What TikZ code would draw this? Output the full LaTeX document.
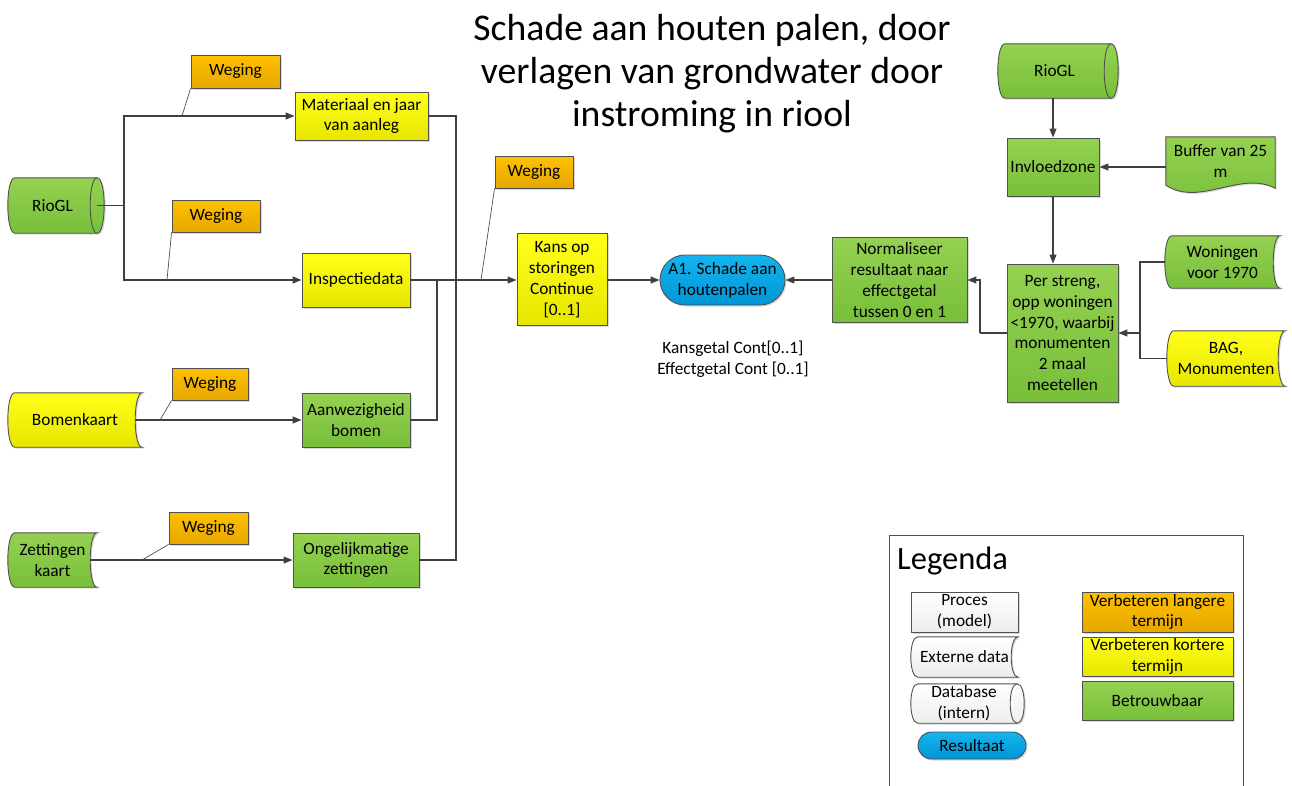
\documentclass[tikz,border=0pt]{standalone}
\usepackage{fontspec}
\setmainfont{Carlito}
\usetikzlibrary{arrows.meta,shadows,calc}
\pgfdeclarelayer{background}
\pgfsetlayers{background,main}
\definecolor{gtop}{HTML}{95D152}
\definecolor{gbot}{HTML}{78BF3A}
\definecolor{ytop}{HTML}{FFFF1A}
\definecolor{ybot}{HTML}{E6E600}
\definecolor{otop}{HTML}{FFC000}
\definecolor{obot}{HTML}{E6A700}
\definecolor{btop}{HTML}{14B4EE}
\definecolor{bbot}{HTML}{0096D6}
\definecolor{wtop}{HTML}{FFFFFF}
\definecolor{wbot}{HTML}{EDEDED}
\definecolor{lc}{HTML}{404040}
\definecolor{edge}{HTML}{505050}
\tikzset{
 txt/.style={font=\fontsize{17.3}{20.8}\selectfont, align=center, inner sep=0pt, text=black},
 shp/.style={draw=edge, line width=0.9pt, drop shadow={shadow xshift=1.5pt,shadow yshift=-1.5pt,opacity=0.3}},
 box/.style={txt, shp},
 gfill/.style={top color=gtop, bottom color=gbot},
 yfill/.style={top color=ytop, bottom color=ybot},
 ofill/.style={top color=otop, bottom color=obot},
 bfill/.style={top color=btop, bottom color=bbot},
 wfill/.style={top color=wtop, bottom color=wbot},
 arr/.style={draw=lc, line width=1.1pt, -{Triangle[length=9pt,width=7pt]}},
 ln/.style={draw=lc, line width=1.1pt},
 callout/.style={draw=edge, line width=0.7pt},
}
\newcommand\extout[2]{\path[shp,#2] ([xshift=7pt]#1.north west) -- (#1.north east) .. controls ([xshift=-9.33pt]#1.north east) and ([xshift=-9.33pt]#1.south east) .. (#1.south east) -- ([xshift=7pt]#1.south west) .. controls ([xshift=-2.33pt]#1.south west) and ([xshift=-2.33pt]#1.north west) .. ([xshift=7pt]#1.north west) -- cycle;}
\newcommand\dbout[2]{\path[shp,#2] ([xshift=7pt]#1.north west) -- (#1.north east) .. controls ([xshift=9.33pt]#1.north east) and ([xshift=9.33pt]#1.south east) .. (#1.south east) -- ([xshift=7pt]#1.south west) .. controls ([xshift=-2.33pt]#1.south west) and ([xshift=-2.33pt]#1.north west) .. ([xshift=7pt]#1.north west) -- cycle;
\draw[draw=edge,line width=0.9pt] (#1.north east) .. controls ([xshift=-9.33pt]#1.north east) and ([xshift=-9.33pt]#1.south east) .. (#1.south east);}
\begin{document}
\begin{tikzpicture}[x=1pt,y=-1pt]
\useasboundingbox (0,0) rectangle (1292,785);
% title
\node[txt,font=\fontsize{37.7}{43}\selectfont] (title) at (712,74) {Schade aan houten palen, door\\verlagen van grondwater door\\instroming in riool};
% left part
\node[txt,minimum width=89pt,minimum height=55pt] (rio1) at (52.5,205.5) {RioGL};
\node[box,ofill,minimum width=89pt,minimum height=33pt] (weg1) at (235.5,71.5) {Weging};
\node[box,yfill,minimum width=133pt,minimum height=48pt] (mat) at (361.5,116) {Materiaal en jaar\\van aanleg};
\node[box,ofill,minimum width=88pt,minimum height=32pt] (weg2) at (216,216) {Weging};
\node[box,yfill,minimum width=108pt,minimum height=54pt] (insp) at (356,280) {Inspectiedata};
\node[box,ofill,minimum width=78pt,minimum height=32pt] (weg3) at (534,172) {Weging};
\node[box,yfill,minimum width=90pt,minimum height=92pt] (kans) at (562,279.5) {Kans op\\storingen\\Continue\\{}[0..1]};
\node[txt,minimum width=134pt,minimum height=54pt] (bomen) at (75,420) {Bomenkaart};
\node[box,ofill,minimum width=76pt,minimum height=32pt] (weg4) at (210,384) {Weging};
\node[box,gfill,minimum width=108pt,minimum height=54pt] (aanw) at (356,420) {Aanwezigheid\\bomen};
\node[txt,minimum width=89pt,minimum height=54pt] (zet) at (52.5,560) {Zettingen\\kaart};
\node[box,ofill,minimum width=79pt,minimum height=32pt] (weg5) at (208.5,528) {Weging};
\node[box,gfill,minimum width=126pt,minimum height=54pt] (ong) at (356,560) {Ongelijkmatige\\zettingen};
% middle
\node[box,bfill,rounded corners=25pt,minimum width=125pt,minimum height=50pt] (a1) at (722.5,280) {A1. Schade aan\\houtenpalen};
\node[txt] (info) at (733,359) {Kansgetal Cont[0..1]\\Effectgetal Cont [0..1]};
\node[box,gfill,minimum width=135pt,minimum height=85pt] (norm) at (899.5,280) {Normaliseer\\resultaat naar\\effectgetal\\tussen 0 en 1};
% right part
\node[txt,minimum width=113pt,minimum height=54pt] (rio2) at (1054.5,71) {RioGL};
\node[box,gfill,minimum width=92pt,minimum height=58pt] (invl) at (1053,167) {Invloedzone};
\node[txt,minimum width=109pt,minimum height=48pt] (buf) at (1220.5,161) {Buffer van 25\\m};
\node[box,gfill,minimum width=111pt,minimum height=138pt] (per) at (1062.5,333) {Per streng,\\opp woningen\\<1970, waarbij\\monumenten\\2 maal\\meetellen};
\node[txt,minimum width=115pt,minimum height=52pt] (won) at (1222.5,262) {Woningen\\voor 1970};
\node[txt,minimum width=118pt,minimum height=55pt] (bag) at (1226,358.5) {BAG,\\Monumenten};
% legend
\node[draw=edge,line width=0.9pt,minimum width=354pt,minimum height=270pt,anchor=north west,inner sep=0pt] (leg) at (889,535) {};
\node[anchor=base west,font=\fontsize{32.5}{36}\selectfont,inner sep=0pt] (legt) at (897,569) {Legenda};
\node[box,wfill,minimum width=107pt,minimum height=40pt] (proc) at (964.5,612) {Proces\\(model)};
\node[txt,minimum width=107pt,minimum height=40pt] (extd) at (964.5,657) {Externe data};
\node[txt,minimum width=106pt,minimum height=39pt] (dbi) at (964,703.5) {Database\\(intern)};
\node[box,bfill,rounded corners=13.5pt,minimum width=108pt,minimum height=27pt] (res) at (972,745.5) {Resultaat};
\node[box,ofill,minimum width=151pt,minimum height=40pt] (vl) at (1157.5,612) {Verbeteren langere\\termijn};
\node[box,yfill,minimum width=151pt,minimum height=39pt] (vk) at (1157.5,656.5) {Verbeteren kortere\\termijn};
\node[box,gfill,minimum width=151pt,minimum height=39pt] (betr) at (1157.5,700.5) {Betrouwbaar};
% custom outlines
\begin{pgfonlayer}{background}
\dbout{rio1}{gfill}
\dbout{rio2}{gfill}
\dbout{dbi}{wfill}
\extout{bomen}{yfill}
\extout{zet}{gfill}
\extout{won}{gfill}
\extout{bag}{yfill}
\extout{extd}{wfill}
\path[shp,gfill] (buf.north west) -- (buf.north east) -- ([yshift=-3pt]buf.south east) .. controls ([xshift=-35pt,yshift=15pt]buf.south east) and ([xshift=34pt,yshift=-22pt]buf.south west) .. (buf.south west) -- cycle;
\end{pgfonlayer}
% connectors left
\coordinate (jr) at (124,205.5);
\draw[ln] (rio1.east) -- (jr);
\draw[arr] (jr) |- (mat.west);
\draw[arr] (jr) |- (insp.west);
\coordinate (c1) at (182,116);
\draw[callout] (weg1.south west) -- (c1);
\coordinate (c2) at (167,280);
\draw[callout] (weg2.south west) -- (c2);
\coordinate (jx) at (456,280);
\draw[ln] (mat.east) -| (jx);
\draw[ln] (ong.east) -| (jx);
\coordinate (jy) at (437,280);
\draw[ln] (aanw.east) -| (jy);
\draw[arr] (insp.east) -- (kans.west |- insp.east);
\coordinate (c3) at (481,280);
\draw[callout] (weg3.south west) -- (c3);
\draw[arr] ([xshift=-7pt]bomen.east) -- (aanw.west);
\coordinate (c4) at (160,420);
\draw[callout] (weg4.south west) -- (c4);
\draw[arr] ([xshift=-7pt]zet.east) -- (ong.west);
\coordinate (c5) at (142,560);
\draw[callout] (weg5.south west) -- (c5);
% middle
\draw[arr] (kans.east |- a1.west) -- (a1.west);
\draw[arr] (norm.west) -- (a1.east);
% right
\coordinate (jn) at (980,333);
\draw[ln] (per.west) -- (jn);
\draw[arr] (jn) |- (norm.east);
\draw[arr] (invl.north |- rio2.south) -- (invl.north);
\draw[arr] (buf.west |- invl.east) -- (invl.east);
\draw[arr] (invl.south) -- (invl.south |- per.north);
\coordinate (jw) at (1140,333);
\draw[ln] (won.west) -| (jw);
\draw[ln] (bag.west) -| (jw);
\draw[arr] (jw) -- (per.east);
\end{tikzpicture}
\end{document}
